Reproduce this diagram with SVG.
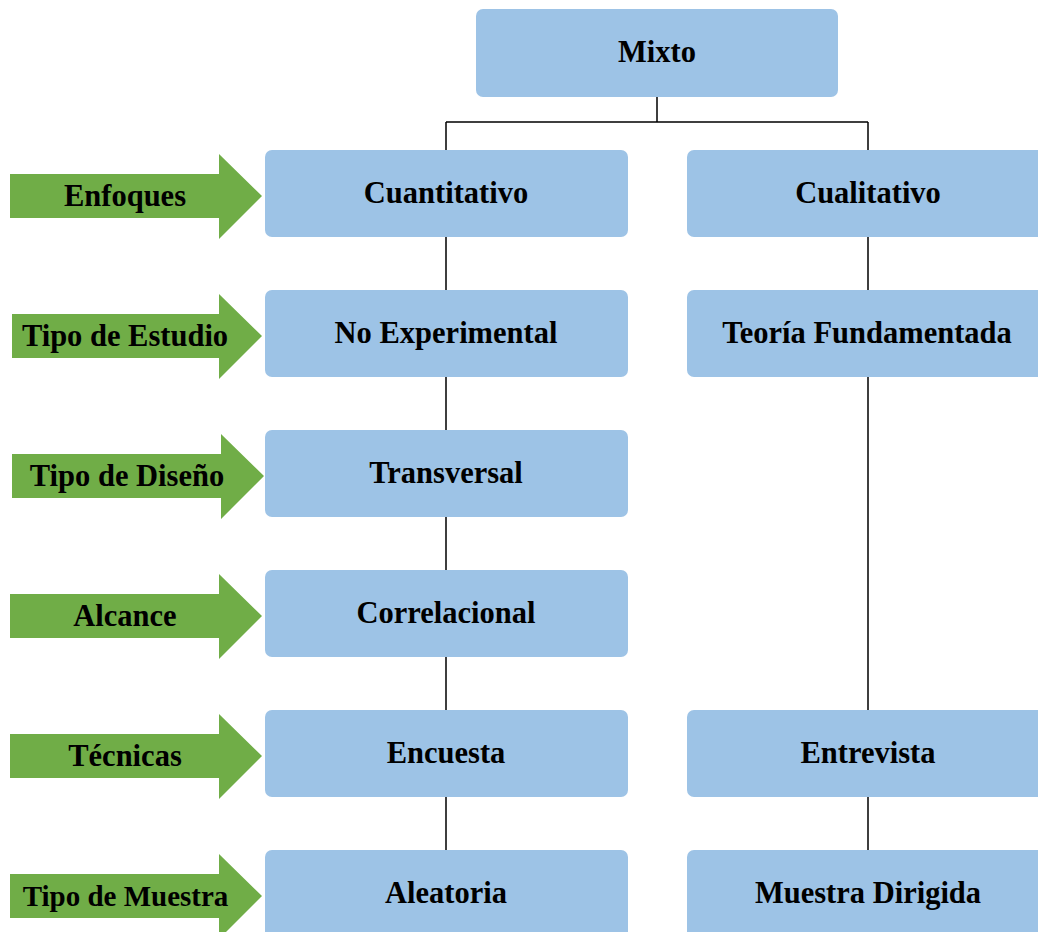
<svg xmlns="http://www.w3.org/2000/svg" width="1038" height="932" viewBox="0 0 1038 932">
<defs>
<style>
.box{fill:#9DC3E6;}
.arr{fill:#70AD47;}
.t{font-family:"Liberation Serif","Times New Roman",serif;font-weight:bold;font-size:30.5px;fill:#000;text-anchor:middle;}
.c{stroke:#000;stroke-width:1.5;fill:none;}
</style>
</defs>
<rect width="1038" height="932" fill="#fff"/>
<g id="connectors">
<path class="c" d="M657 97V122M446 122H868M446 122V150M868 122V150"/>
<path class="c" d="M446 237V290M446 377V430M446 517V570M446 657V710M446 797V850"/>
<path class="c" d="M868 237V290M868 377V710M868 797V850"/>
</g>
<g id="mixto"><rect class="box" x="476" y="9" width="362" height="88" rx="7"/><text class="t" x="657" y="62">Mixto</text></g>
<g id="cuantitativo"><rect class="box" x="265" y="150" width="363" height="87" rx="7"/><text class="t" x="446" y="203">Cuantitativo</text></g>
<g id="cualitativo"><rect class="box" x="687" y="150" width="363" height="87" rx="7"/><text class="t" x="868" y="203">Cualitativo</text></g>
<g id="noexperimental"><rect class="box" x="265" y="290" width="363" height="87" rx="7"/><text class="t" x="446" y="343">No Experimental</text></g>
<g id="teoria"><rect class="box" x="687" y="290" width="363" height="87" rx="7"/><text class="t" x="867" y="343">Teoría Fundamentada</text></g>
<g id="transversal"><rect class="box" x="265" y="430" width="363" height="87" rx="7"/><text class="t" x="446" y="483">Transversal</text></g>
<g id="correlacional"><rect class="box" x="265" y="570" width="363" height="87" rx="7"/><text class="t" x="446" y="623">Correlacional</text></g>
<g id="encuesta"><rect class="box" x="265" y="710" width="363" height="87" rx="7"/><text class="t" x="446" y="763">Encuesta</text></g>
<g id="entrevista"><rect class="box" x="687" y="710" width="363" height="87" rx="7"/><text class="t" x="868" y="763">Entrevista</text></g>
<g id="aleatoria"><rect class="box" x="265" y="850" width="363" height="90" rx="7"/><text class="t" x="446" y="903">Aleatoria</text></g>
<g id="muestradirigida"><rect class="box" x="687" y="850" width="363" height="90" rx="7"/><text class="t" x="868" y="903">Muestra Dirigida</text></g>
<g id="arrow-enfoques"><path class="arr" d="M10 174H219V154L262 196L219 239V218H10Z"/><text class="t" x="125" y="206">Enfoques</text></g>
<g id="arrow-estudio"><path class="arr" d="M12 314H219V294L262 336L219 379V358H12Z"/><text class="t" x="125" y="346">Tipo de Estudio</text></g>
<g id="arrow-diseno"><path class="arr" d="M12 454H221V434L264 476L221 519V498H12Z"/><text class="t" x="127" y="486">Tipo de Diseño</text></g>
<g id="arrow-alcance"><path class="arr" d="M10 594H219V574L262 616L219 659V638H10Z"/><text class="t" x="125" y="626">Alcance</text></g>
<g id="arrow-tecnicas"><path class="arr" d="M10 734H219V714L262 756L219 799V778H10Z"/><text class="t" x="125" y="766">Técnicas</text></g>
<g id="arrow-muestra"><path class="arr" d="M10 874H219V854L262 896L219 939V918H10Z"/><text class="t" x="125.5" y="906" style="font-size:29px">Tipo de Muestra</text></g>
</svg>
